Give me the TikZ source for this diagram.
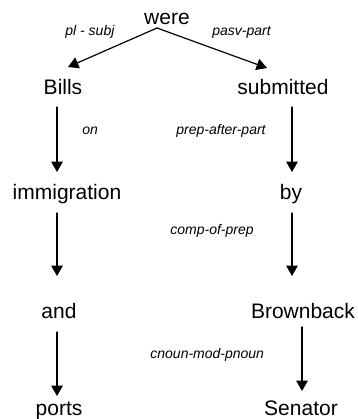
\documentclass[tikz,border=0pt]{standalone}
\usepackage{fontspec}
\setmainfont{Liberation Sans}
\usetikzlibrary{arrows.meta}

\begin{document}
\begin{tikzpicture}[line cap=round,line join=round,x=0.5pt,y=-0.5pt,
    word/.style={anchor=base,inner sep=0pt,font=\fontsize{10.5}{12}\selectfont},
    rel/.style={anchor=base west,inner sep=0pt,font=\fontsize{7}{9}\selectfont\itshape},
    dep/.style={line width=0.6pt,-{Triangle[width=5.8pt,length=5.2pt]}}]
                \useasboundingbox (0,0) rectangle (358,419);
                % words
                \node[word] (were) at (167,24) {were};
                \node[word] (Bills) at (63,94) {Bills};
                \node[word] (submitted) at (283,94) {submitted};
                \node[word] (immigration) at (67,199) {immigration};
                \node[word] (by) at (291,199) {by};
                \node[word] (and) at (59,318) {and};
                \node[word] (Brownback) at (303,318) {Brownback};
                \node[word] (ports) at (59,415) {ports};
                \node[word] (Senator) at (301,415) {Senator};
                % relations
                \node[rel] (plsubj) at (65,35) {pl - subj};
                \node[rel] (pasvpart) at (212,35) {pasv-part};
                \node[rel] (on) at (82,134) {on};
                \node[rel] (prepafter) at (176,134) {prep-after-part};
                \node[rel] (compofprep) at (170,234) {comp-of-prep};
                \node[rel] (cnounmod) at (150,358) {cnoun-mod-pnoun};
                % dependencies
                \coordinate (fork) at ([shift={(-10,4)}]were.base);
                \draw[dep] (fork) -- ([shift={(5,-27)}]Bills.base);
                \draw[dep] (fork) -- ([shift={(-16,-26)}]submitted.base);
                \draw[dep] ([shift={(-6,13)}]Bills.base) -- ([shift={(-10,-27)}]immigration.base);
                \draw[dep] ([shift={(9,13)}]submitted.base) -- ([shift={(1,-27)}]by.base);
                \draw[dep] ([shift={(-10,14)}]immigration.base) -- ([shift={(-2,-42)}]and.base);
                \draw[dep] ([shift={(1,14)}]by.base) -- ([shift={(-11,-42)}]Brownback.base);
                \draw[dep] ([shift={(-2,14)}]and.base) -- ([shift={(-2,-19)}]ports.base);
                \draw[dep] ([shift={(-1,9)}]Brownback.base) -- ([shift={(1,-24)}]Senator.base);
\end{tikzpicture}
\end{document}
